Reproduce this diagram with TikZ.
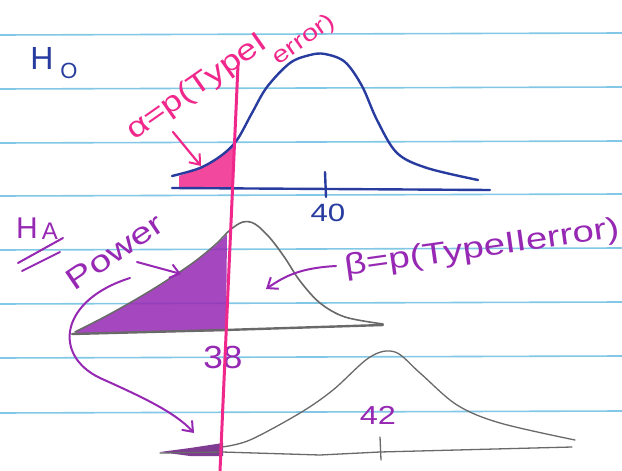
\documentclass[tikz,border=0pt]{standalone}
\usepackage{fontspec}
\setmainfont{Liberation Sans}
\usetikzlibrary{arrows.meta}
\definecolor{rule}{RGB}{130,200,230}
\definecolor{inkblue}{RGB}{40,60,160}
\definecolor{inkpink}{RGB}{240,40,140}
\definecolor{inkpurple}{RGB}{150,40,180}
\definecolor{pencil}{RGB}{105,105,105}
\tikzset{
  ruled/.style={rule, line width=1.6pt},
  bluepen/.style={inkblue, line width=2.4pt, line cap=round, line join=round},
  pinkpen/.style={inkpink, line width=2.2pt, line cap=round, line join=round},
  purplepen/.style={inkpurple, line width=2pt, line cap=round, line join=round},
  graypen/.style={pencil, line width=1.6pt, line cap=round, line join=round},
  barb/.style={-{Straight Barb[length=9pt,width=14pt,line width=2pt]}},
  hand/.style={inner sep=0pt, font=\fontsize{26}{28}\selectfont},
}
\begin{document}
\begin{tikzpicture}[x=1pt,y=-1pt]
\fill[white] (0,0) rectangle (622,471);
\useasboundingbox (0,0) rectangle (622,471);
% ruled paper
\foreach \y in {35,89,143,196,250,304,358,413}
  \draw[ruled] (0,\y) -- (622,\y-2);

% ---------- H0 ----------
\node[hand, inkblue, font=\fontsize{32}{34}\selectfont] (h) at (42,58) {H};
\node[hand, inkblue, font=\fontsize{22}{24}\selectfont] (ho) at (69,71) {O};

% pink shaded alpha region
\fill[inkpink, opacity=0.85] plot[smooth, tension=0.6] coordinates {(179,176) (200,168) (220,157) (234,143)} -- (233,188) -- (179,188) -- cycle;
% H0 curve
\draw[bluepen] plot[smooth, tension=0.55] coordinates {(172,176) (200,168) (222,155) (237,140) (252,113) (267,87) (290,63) (310,55) (325,54) (345,62) (362,86) (377,120) (397,153) (427,168) (478,180)};
% H0 axis
\coordinate (a0l) at (172,188);
\coordinate (a0r) at (490,190);
\draw[bluepen] (a0l) -- (a0r);
\coordinate (t40a) at (325,172);
\coordinate (t40b) at (326,197);
\draw[bluepen] (t40a) -- (t40b);
\node[hand, inkblue, font=\fontsize{25}{27}\selectfont, xscale=1.25] (n40) at (328,213) {40};

% alpha label (second line "error)" set lower, after "TypeI")
\node[hand, inkpink, rotate=35, xscale=1.26, font=\fontsize{29}{31}\selectfont, anchor=base west] (alab) at (134,141)
  {α=p(TypeI\kern-2pt\raisebox{-21pt}{\fontsize{23}{25}\selectfont error)}};
\coordinate (aa1) at (173,132);
\coordinate (aa2) at (201,166);
\draw[pinkpen, barb] (aa1) -- (aa2);

% ---------- HA ----------
\node[hand, inkpurple, font=\fontsize{30}{32}\selectfont] (ha) at (27,228) {H};
\node[hand, inkpurple, font=\fontsize{24}{26}\selectfont] (haa) at (50,231) {A};
\coordinate (u1a) at (18,263);
\coordinate (u1b) at (63,238);
\coordinate (u2a) at (22,271);
\coordinate (u2b) at (60,252);
\draw[purplepen] (u1a) -- (u1b);
\draw[purplepen] (u2a) -- (u2b);

% purple power region
\fill[inkpurple, opacity=0.85] plot[smooth, tension=0.5] coordinates {(76,332) (110,314) (150,291) (190,265) (215,246) (227,234)} -- (226,331) -- (76,334) -- cycle;
% HA curve
\draw[graypen] plot[smooth, tension=0.55] coordinates {(75,332) (110,314) (150,291) (190,265) (215,245) (230,230) (243,222) (255,224) (270,238) (285,258) (300,281) (320,303) (345,317) (383,324)};
% HA axis
\coordinate (aal) at (72,334);
\coordinate (aam) at (225,330);
\coordinate (aar) at (383,325);
\draw[pencil, line width=2.4pt, line cap=round] (aal) -- (aam) -- (aar);

% Power label and arrows
\node[hand, inkpurple, rotate=34, xscale=1.3, font=\fontsize{30}{32}\selectfont] (pw) at (115,252) {Power};
\coordinate (pa1) at (137,262);
\coordinate (pa2) at (181,274);
\draw[purplepen, barb] (pa1) -- (pa2);
\coordinate (pc1) at (130,278);
\coordinate (pc2) at (194,433);
\draw[purplepen, barb] (pc1) .. controls (60,300) and (52,355) .. (100,378) .. controls (140,396) and (175,412) .. (pc2);

% beta label and arrow
\node[hand, inkpurple, rotate=8, xscale=1.28, font=\fontsize{30}{32}\selectfont] (blab) at (482,249) {β=p(TypeIIerror)};
\coordinate (ba1) at (336,266);
\coordinate (ba2) at (266,289);
\draw[purplepen, barb] (ba1) .. controls (300,268) and (285,276) .. (ba2);

\node[hand, inkpurple, font=\fontsize{32}{34}\selectfont, xscale=1.1] (n38) at (223,357) {38};

% ---------- bottom curve ----------
\fill[inkpurple!70!black, opacity=0.85] (160,452) -- (190,448) -- (223,443) -- (223,456) -- (190,456) -- cycle;
\draw[graypen, line width=1.3pt] plot[smooth, tension=0.55] coordinates {(222,447) (250,440) (300,413) (333,390) (370,357) (395,352) (420,373) (457,405) (500,423) (575,440)};
\coordinate (bl) at (160,453);
\coordinate (bm) at (320,455);
\coordinate (br) at (572,447);
\draw[graypen, line width=1.3pt] (bl) -- (222,452) -- (bm) -- (380,452) -- (br);
\coordinate (t42a) at (380,437);
\coordinate (t42b) at (381,460);
\draw[graypen, line width=1.3pt] (t42a) -- (t42b);
\node[hand, inkpurple, font=\fontsize{26}{28}\selectfont, xscale=1.25] (n42) at (378,415) {42};

% pink critical line
\coordinate (pl1) at (238,65);
\coordinate (pl2) at (220,471);
\draw[inkpink, line width=3pt] (pl1) -- (pl2);
\end{tikzpicture}
\end{document}
